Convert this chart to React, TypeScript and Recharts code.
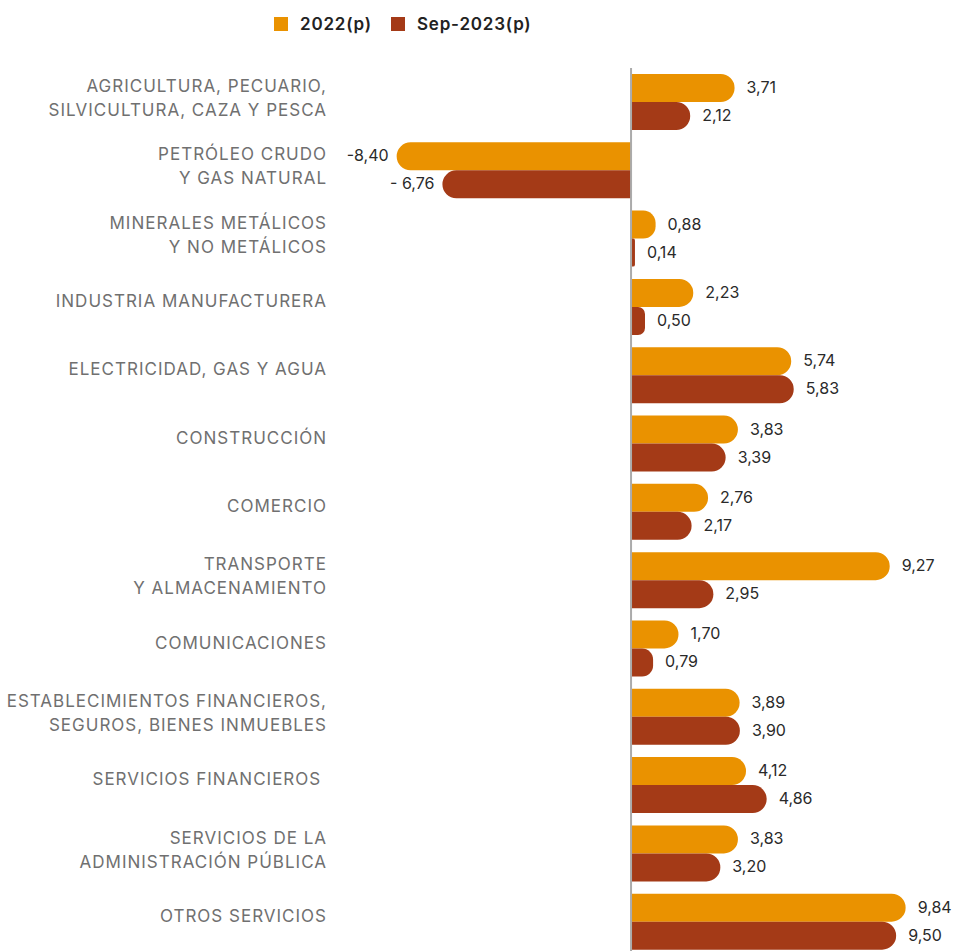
import React from 'react';
import { BarChart, Bar, XAxis, YAxis, Legend, ReferenceLine, LabelList } from 'recharts';

const categories = [
  'AGRICULTURA, PECUARIO,\nSILVICULTURA, CAZA Y PESCA',
  'PETRÓLEO CRUDO\nY GAS NATURAL',
  'MINERALES METÁLICOS\nY NO METÁLICOS',
  'INDUSTRIA MANUFACTURERA',
  'ELECTRICIDAD, GAS Y AGUA',
  'CONSTRUCCIÓN',
  'COMERCIO',
  'TRANSPORTE\nY ALMACENAMIENTO',
  'COMUNICACIONES',
  'ESTABLECIMIENTOS FINANCIEROS,\nSEGUROS, BIENES INMUEBLES',
  'SERVICIOS FINANCIEROS ',
  'SERVICIOS DE LA\nADMINISTRACIÓN PÚBLICA',
  'OTROS SERVICIOS',
];

const values2022 = [3.71, -8.4, 0.88, 2.23, 5.74, 3.83, 2.76, 9.27, 1.7, 3.89, 4.12, 3.83, 9.84];
const valuesSep2023 = [2.12, -6.76, 0.14, 0.5, 5.83, 3.39, 2.17, 2.95, 0.79, 3.9, 4.86, 3.2, 9.5];

const labels2022 = ['3,71', '-8,40', '0,88', '2,23', '5,74', '3,83', '2,76', '9,27', '1,70', '3,89', '4,12', '3,83', '9,84'];
const labelsSep2023 = ['2,12', '- 6,76', '0,14', '0,50', '5,83', '3,39', '2,17', '2,95', '0,79', '3,90', '4,86', '3,20', '9,50'];

const seriesNames = ['2022(p)', 'Sep-2023(p)'];
const ORANGE = '#EA9200';
const RED = '#A43A17';
const FONT = 'Inter, "Noto Sans", sans-serif';

const data = categories.map((name, i) => ({
  name,
  v2022: values2022[i],
  v2023: valuesSep2023[i],
}));

const CategoryTick = (props: any) => {
  const { x, y, payload } = props;
  const lines = String(payload.value).split('\n');
  const offsets = lines.length === 1 ? [-6] : [-16, 8];
  return (
    <g>
      {lines.map((ln: string, i: number) => (
        <text
          key={i}
          x={x - 17}
          y={y + offsets[i]}
          textAnchor="end"
          dominantBaseline="central"
          fill="#707070"
          fontSize={17}
          letterSpacing={1}
          fontFamily={FONT}
          style={{ whiteSpace: 'pre' }}
        >
          {ln}
        </text>
      ))}
    </g>
  );
};

const makeValueLabel = (labels: string[]) => (props: any) => {
  const { x, y, width, height, index } = props;
  const neg = width < 0;
  const tx = neg ? x + width - 8 : x + width + 12;
  return (
    <text
      x={tx}
      y={y + height / 2 - 1}
      textAnchor={neg ? 'end' : 'start'}
      dominantBaseline="central"
      fill="#2a2a2a"
      fontSize={16}
      fontFamily={FONT}
      style={{ whiteSpace: 'pre' }}
    >
      {labels[index]}
    </text>
  );
};

const legendText: React.CSSProperties = {
  position: 'absolute',
  top: 12,
  fontSize: 17,
  fontWeight: 600,
  letterSpacing: 0.8,
  color: '#222',
  lineHeight: '24px',
  whiteSpace: 'nowrap',
};

const LegendContent = () => (
  <div style={{ position: 'relative', height: 40, width: 955, fontFamily: FONT }}>
    <div style={{ position: 'absolute', left: 274, top: 17, width: 14, height: 14, background: ORANGE }} />
    <div style={{ ...legendText, left: 300 }}>{seriesNames[0]}</div>
    <div style={{ position: 'absolute', left: 391, top: 17, width: 14, height: 14, background: RED }} />
    <div style={{ ...legendText, left: 417 }}>{seriesNames[1]}</div>
  </div>
);

export default function App() {
  return (
    <div style={{ width: 955, height: 951, overflow: 'hidden' }}>
      <style>{'html,body{margin:0;padding:0;overflow:hidden;}'}</style>
      <BarChart
        width={955}
        height={951}
        data={data}
        layout="vertical"
        margin={{ top: 28, right: 17, bottom: -5, left: 0 }}
        barGap={0}
        barSize={28}
        style={{ overflow: 'visible' }}
      >
        <XAxis type="number" domain={[-10, 11]} hide allowDataOverflow />
        <YAxis
          type="category"
          dataKey="name"
          width={352}
          axisLine={false}
          tickLine={false}
          interval={0}
          tick={<CategoryTick />}
        />
        <Legend
          verticalAlign="top"
          align="left"
          content={<LegendContent />}
          wrapperStyle={{ top: 0, left: 0, height: 40 }}
        />
        <Bar dataKey="v2022" name={seriesNames[0]} fill={ORANGE} radius={[0, 14, 14, 0]} isAnimationActive={false}>
          <LabelList dataKey="v2022" content={makeValueLabel(labels2022)} />
        </Bar>
        <Bar dataKey="v2023" name={seriesNames[1]} fill={RED} radius={[0, 14, 14, 0]} isAnimationActive={false}>
          <LabelList dataKey="v2023" content={makeValueLabel(labelsSep2023)} />
        </Bar>
        <ReferenceLine x={0} stroke="#ababab" strokeWidth={2} ifOverflow="extendDomain" />
      </BarChart>
    </div>
  );
}
